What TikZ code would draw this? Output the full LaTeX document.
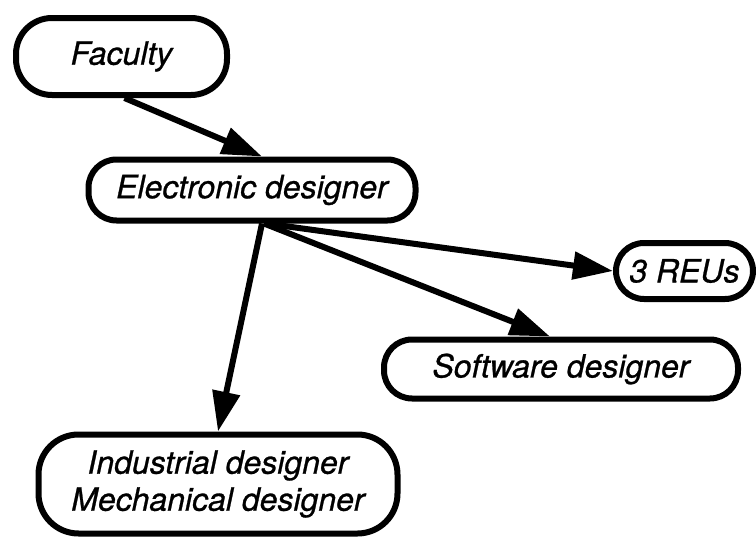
\documentclass[tikz,border=0pt]{standalone}
\usepackage{fontspec}
\setmainfont{TeX Gyre Heros}[ItalicFeatures={FakeBold=0.8}]
\usetikzlibrary{arrows.meta}
\begin{document}
\begin{tikzpicture}[x=1pt,y=-1pt,
  box/.style={draw, line width=6pt, rounded corners=28pt, inner sep=0pt, align=center,
    font=\fontsize{32}{37}\selectfont\itshape},
  conn/.style={line width=6pt, -{Triangle[length=40pt,width=27pt]}}]
\useasboundingbox (0,0) rectangle (756,538);
\node[box, rounded corners=36pt, minimum width=211pt, minimum height=77pt] (fac) at (121.5,56.5) {Faculty};
\node[box, minimum width=327pt, minimum height=61pt] (ele) at (252,190) {Electronic designer};
\node[box, minimum width=137pt, minimum height=56pt] (reu) at (684.5,271) {3 REUs};
\node[box, minimum width=354pt, minimum height=59pt] (soft) at (561,369) {Software designer};
\node[box, rounded corners=40pt, minimum width=359pt, minimum height=99pt] (ind) at (218,484) {Industrial designer\\Mechanical designer};
\draw[conn] ([xshift=3pt]fac.south) -- ([xshift=10pt]ele.north);
\draw[conn] ([xshift=10pt]ele.south) -- (ind.north);
\draw[conn] ([xshift=14pt]ele.south) -- (reu.west);
\draw[conn] ([xshift=12pt]ele.south) -- ([xshift=-11pt]soft.north);
\end{tikzpicture}
\end{document}
